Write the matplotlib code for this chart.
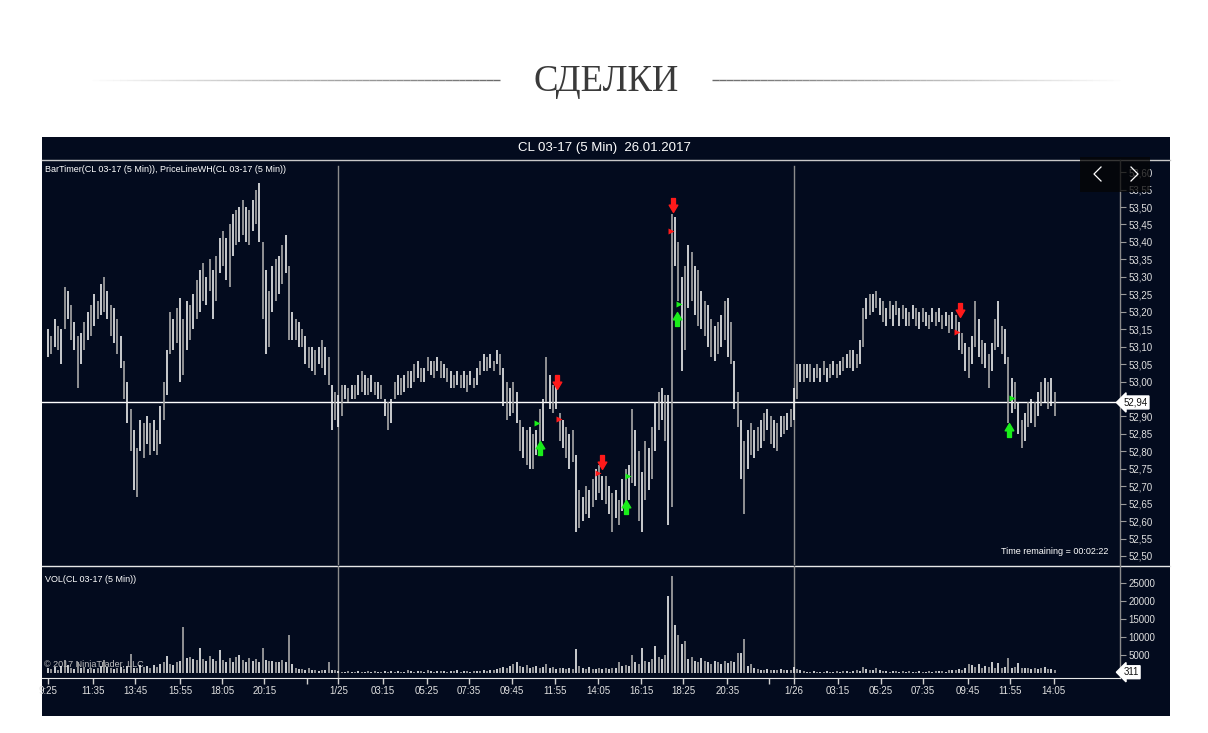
import numpy as np
import matplotlib
matplotlib.use('Agg')
import matplotlib.pyplot as plt
from matplotlib.path import Path
from matplotlib.collections import LineCollection
from matplotlib.patches import Rectangle

plt.rcParams['font.family'] = ['Liberation Sans', 'DejaVu Sans']

# ---------------- data (prices in cents) ----------------
high_c = [
    5315, 5313, 5318, 5316, 5315, 5327, 5326, 5322, 5317, 5313,
    5314, 5317, 5320, 5322, 5325, 5323, 5328, 5330, 5326, 5322,
    5321, 5318, 5313, 5306, 5300, 5292, 5286, 5281, 5289, 5288,
    5290, 5288, 5289, 5286, 5293, 5300, 5309, 5320, 5318, 5321,
    5324, 5318, 5323, 5322, 5325, 5329, 5332, 5334, 5330, 5335,
    5332, 5336, 5341, 5343, 5341, 5345, 5348, 5349, 5350, 5352,
    5350, 5349, 5352, 5355, 5357, 5340, 5332, 5326, 5333, 5335,
    5336, 5339, 5342, 5333, 5320, 5318, 5317, 5315, 5313, 5310,
    5310, 5309, 5310, 5312, 5310, 5307, 5299, 5297, 5296, 5299,
    5299, 5298, 5299, 5299, 5302, 5303, 5302, 5301, 5302, 5300,
    5300, 5299, 5295, 5294, 5295, 5300, 5302, 5301, 5302, 5303,
    5303, 5305, 5306, 5304, 5304, 5307, 5306, 5306, 5307, 5306,
    5305, 5304, 5303, 5302, 5303, 5302, 5303, 5302, 5303, 5301,
    5304, 5306, 5308, 5307, 5308, 5306, 5309, 5308, 5304, 5300,
    5298, 5300, 5297, 5289, 5287, 5286, 5287, 5285, 5286, 5292,
    5295, 5307, 5302, 5299, 5300, 5291, 5289, 5287, 5285, 5286,
    5279, 5269, 5267, 5270, 5269, 5272, 5275, 5276, 5273, 5273,
    5270, 5268, 5269, 5266, 5272, 5275, 5276, 5292, 5286, 5280,
    5274, 5283, 5281, 5287, 5294, 5297, 5298, 5296, 5296, 5348,
    5347, 5340, 5330, 5333, 5339, 5337, 5333, 5332, 5326, 5323,
    5322, 5318, 5316, 5317, 5319, 5323, 5324, 5317, 5306, 5297,
    5289, 5283, 5286, 5288, 5286, 5287, 5289, 5291, 5292, 5290,
    5289, 5288, 5290, 5290, 5291, 5292, 5298, 5305, 5305, 5305,
    5305, 5305, 5304, 5305, 5304, 5306, 5304, 5305, 5306, 5305,
    5306, 5307, 5308, 5309, 5309, 5308, 5312, 5321, 5324, 5325,
    5325, 5326, 5324, 5323, 5321, 5323, 5322, 5323, 5321, 5322,
    5321, 5320, 5322, 5321, 5320, 5321, 5320, 5319, 5321, 5320,
    5321, 5319, 5320, 5319, 5320, 5319, 5317, 5314, 5311, 5310,
    5313, 5323, 5318, 5312, 5311, 5308, 5311, 5318, 5323, 5316,
    5315, 5307, 5301, 5300, 5294, 5289, 5291, 5294, 5295, 5294,
    5297, 5300, 5301, 5300, 5301, 5297,
]
low_c = [
    5307, 5308, 5310, 5309, 5305, 5315, 5318, 5312, 5309, 5298,
    5305, 5309, 5312, 5313, 5316, 5318, 5319, 5320, 5318, 5313,
    5311, 5308, 5304, 5295, 5288, 5280, 5269, 5267, 5280, 5278,
    5282, 5279, 5280, 5279, 5282, 5289, 5296, 5308, 5309, 5311,
    5300, 5302, 5309, 5312, 5315, 5318, 5320, 5323, 5322, 5326,
    5318, 5323, 5331, 5333, 5329, 5327, 5336, 5339, 5340, 5342,
    5340, 5339, 5343, 5345, 5340, 5318, 5308, 5310, 5320, 5323,
    5325, 5328, 5331, 5312, 5312, 5312, 5310, 5310, 5305, 5304,
    5303, 5302, 5305, 5304, 5302, 5299, 5286, 5289, 5287, 5290,
    5295, 5294, 5295, 5295, 5296, 5297, 5296, 5296, 5297, 5296,
    5295, 5295, 5290, 5286, 5288, 5295, 5296, 5296, 5297, 5298,
    5298, 5300, 5301, 5300, 5300, 5303, 5302, 5301, 5303, 5301,
    5301, 5300, 5298, 5298, 5299, 5298, 5298, 5297, 5299, 5298,
    5299, 5302, 5303, 5303, 5304, 5303, 5305, 5302, 5293, 5289,
    5290, 5291, 5288, 5280, 5278, 5276, 5275, 5275, 5279, 5280,
    5283, 5294, 5292, 5291, 5292, 5283, 5281, 5278, 5275, 5277,
    5257, 5258, 5260, 5262, 5261, 5264, 5266, 5268, 5266, 5265,
    5262, 5257, 5261, 5259, 5263, 5265, 5266, 5271, 5270, 5260,
    5257, 5266, 5269, 5272, 5280, 5286, 5289, 5283, 5259, 5264,
    5333, 5323, 5303, 5309, 5321, 5323, 5319, 5316, 5315, 5313,
    5310, 5307, 5306, 5308, 5310, 5312, 5307, 5305, 5292, 5287,
    5272, 5262, 5275, 5279, 5278, 5280, 5281, 5283, 5286, 5282,
    5281, 5280, 5284, 5285, 5286, 5287, 5289, 5295, 5300, 5300,
    5301, 5300, 5300, 5301, 5300, 5302, 5300, 5301, 5302, 5301,
    5302, 5303, 5304, 5304, 5303, 5304, 5305, 5310, 5318, 5319,
    5320, 5321, 5319, 5317, 5316, 5318, 5316, 5319, 5316, 5318,
    5316, 5316, 5318, 5316, 5315, 5317, 5316, 5315, 5317, 5316,
    5317, 5315, 5316, 5314, 5315, 5314, 5309, 5308, 5303, 5301,
    5305, 5310, 5307, 5305, 5304, 5298, 5303, 5309, 5310, 5308,
    5305, 5288, 5291, 5292, 5285, 5281, 5283, 5287, 5288, 5287,
    5290, 5293, 5294, 5292, 5293, 5290,
]
volume = [
    1500, 1200, 1800, 1000, 2000, 3600, 2200, 1500, 1300, 3100,
    1400, 1800, 1200, 1600, 1300, 1500, 2000, 3600, 1700, 1400,
    1200, 1500, 1800, 1300, 2000, 5300, 1600, 1500, 2200, 1800,
    2000, 1600, 2400, 1800, 2500, 3000, 4700, 2600, 2200, 3000,
    3500, 12700, 4200, 4500, 4000, 3800, 6900, 4000, 3500, 4800,
    4000, 3500, 6300, 3800, 3200, 4200, 3000, 4500, 5000, 3600,
    3000, 4200, 3500, 4000, 3200, 7100, 3800, 3300, 3500, 3000,
    3200, 3600, 3000, 10700, 2500, 1500, 1200, 1300, 1000, 1500,
    900, 800, 700, 1000, 800, 3000, 1000, 900, 600, 500,
    500, 600, 400, 500, 600, 500, 400, 600, 500, 700,
    500, 400, 600, 500, 700, 500, 600, 400, 500, 800,
    600, 500, 700, 600, 500, 800, 600, 500, 700, 600,
    600, 500, 700, 600, 800, 500, 600, 700, 500, 600,
    700, 600, 800, 700, 900, 1000, 1200, 1500, 1800, 1500,
    2000, 2500, 3100, 2000, 1800, 2200, 1500, 1800, 2000, 1600,
    1800, 2500, 1500, 1800, 1200, 1600, 1400, 1200, 1500, 1300,
    6600, 2000, 1500, 1200, 1800, 1300, 1100, 1500, 1200, 1400,
    1300, 1600, 1500, 3000, 2000, 2200, 2000, 5000, 3000, 2500,
    7000, 3500, 3000, 4000, 7500, 4500, 4000, 5000, 21300, 26800,
    13200, 10500, 8000, 9000, 4000, 4500, 3500, 3000, 4200, 3500,
    3000, 2500, 3500, 3000, 2500, 3300, 2800, 3500, 3000, 5700,
    5700, 9600, 2000, 2500, 1500, 1200, 1000, 900, 1200, 800,
    1000, 800, 1200, 900, 800, 1000, 1800, 1200, 800, 600,
    500, 400, 600, 500, 400, 500, 600, 400, 500, 600,
    500, 600, 700, 500, 600, 800, 700, 1700, 1200, 900,
    1000, 1600, 800, 700, 600, 500, 700, 600, 500, 600,
    500, 600, 400, 500, 600, 500, 400, 600, 500, 700,
    600, 700, 500, 800, 900, 1000, 1200, 1000, 1500, 2500,
    2200, 1800, 2500, 1500, 2000, 1800, 3000, 1600, 2800, 1500,
    1800, 4200, 1500, 1800, 2900, 1600, 1400, 1500, 1300, 1600,
    1200, 1500, 1800, 1300, 1200, 1000,
]
tick_pos = [0, 13.6, 26.4, 40, 52.7, 65.5, 78.5, 88, 101.5, 114.8, 127.6,
            140.6, 153.6, 166.7, 179.7, 192.4, 205.8, 218.5, 226.1, 239.4,
            252.4, 265.2, 278.8, 291.5, 304.8]
tick_labels = ['9:25', '11:35', '13:45', '15:55', '18:05', '20:15', '', '1/25',
               '03:15', '05:25', '07:35', '09:45', '11:55', '14:05', '16:15',
               '18:25', '20:35', '', '1/26', '03:15', '05:25', '07:35', '09:45',
               '11:55', '14:05']
price_ticks = [52.50, 52.55, 52.60, 52.65, 52.70, 52.75, 52.80, 52.85, 52.90,
               53.00, 53.05, 53.10, 53.15, 53.20, 53.25, 53.30, 53.35, 53.40,
               53.45, 53.50, 53.55, 53.60]
volume_ticks = [5000, 10000, 15000, 20000, 25000]
day_breaks = [88, 226.1]
last_price = 52.94
last_volume = 311

sell_x = [154.2, 167.9, 189.4, 276.4]
sell_p = [53.00, 52.77, 53.505, 53.205]
buy_x = [149.0, 175.2, 190.6, 291.2]
buy_p = [52.81, 52.64, 53.18, 52.86]
red_mark_x = [154.8, 166.7, 188.8, 275.5]
red_mark_p = [52.893, 52.738, 53.431, 53.142]
green_mark_x = [148.2, 175.8, 191.2, 292.1]
green_mark_p = [52.881, 52.729, 53.222, 52.953]

# ---------------- figure ----------------
W, H = 1208, 733
BG = '#030b1e'
fig = plt.figure(figsize=(W / 100, H / 100), dpi=100)
fig.patch.set_facecolor('white')


def rect(x0, y0, x1, y1):
    return [x0 / W, 1 - y1 / H, (x1 - x0) / W, (y1 - y0) / H]


bg = fig.add_axes([0, 0, 1, 1])
bg.set_xlim(0, W)
bg.set_ylim(H, 0)
bg.axis('off')

# title with decorative fading lines
bg.text(606, 82, 'СДЕЛКИ', fontsize=26.5, color='#3a3a3a', ha='center', va='center',
        family=['Liberation Serif', 'DejaVu Serif'])
n = 60
for (xa, xb, rev) in [(85, 500, False), (712, 1127, True)]:
    xs = np.linspace(xa, xb, n + 1)
    segs = [[(xs[k], 80), (xs[k + 1], 80)] for k in range(n)]
    a = np.linspace(0.0, 1.0, n)
    if rev:
        a = a[::-1]
    cols = [(0.42, 0.42, 0.42, v) for v in a]
    bg.add_collection(LineCollection(segs, colors=cols, linewidths=1.0))

# panel
bg.add_patch(Rectangle((42, 137), 1128, 579, facecolor=BG, edgecolor='none'))
bg.text(604, 148, 'CL 03-17 (5 Min)  26.01.2017', color='white', fontsize=9.5,
        ha='center', va='center')
bg.plot([42, 1170], [159.5, 159.5], color='#c8c8c8', lw=1)
bg.plot([42, 1170], [565.5, 565.5], color='#e8e8e8', lw=1)
bg.plot([1120, 1120], [160, 678], color='#8a8a8a', lw=1)
bg.text(45, 170, 'BarTimer(CL 03-17 (5 Min)), PriceLineWH(CL 03-17 (5 Min))',
        color='white', fontsize=6.5, ha='left', va='center')
bg.text(1108, 552, 'Time remaining = 00:02:22', color='white', fontsize=6.5,
        ha='right', va='center')
bg.text(45, 579, 'VOL(CL 03-17 (5 Min))', color='white', fontsize=6.5,
        ha='left', va='center')

step_px = 3.3
x_first = 48
xlim = ((42 - x_first) / step_px, (1120 - x_first) / step_px)

highs = np.array(high_c) / 100.0
lows = np.array(low_c) / 100.0
idx = np.arange(len(highs))
bar_cols = ['#ececec' if i % 2 == 0 else '#a9a9a9' for i in idx]

# price panel
ax = fig.add_axes(rect(42, 160, 1120, 565))
ax.set_facecolor('none')
for s in ax.spines.values():
    s.set_visible(False)
ax.set_xlim(*xlim)
ax.set_ylim(52.4742, 53.6347)
ax.vlines(idx, lows, highs, colors=bar_cols, linewidth=1.2, zorder=3)
for d in day_breaks:
    ax.axvline(d, color='#8c8c8c', lw=1, ymax=0.985, zorder=1)
ax.axhline(last_price, color='white', lw=1, zorder=2)
ax.yaxis.tick_right()
ax.set_yticks(price_ticks)
ax.set_yticklabels([f'{v:.2f}'.replace('.', ',') for v in price_ticks])
ax.tick_params(axis='y', colors='#9a9a9a', labelcolor='#e0e0e0', labelsize=7,
               length=4, width=0.8, pad=2)
ax.set_xticks([])
ax.text(1.003, (last_price - 52.4742) / (53.6347 - 52.4742), f'{last_price:.2f}'.replace('.', ','),
        transform=ax.transAxes, fontsize=7, color='#111111', ha='left', va='center',
        bbox=dict(boxstyle='larrow,pad=0.15', fc='white', ec='white'), zorder=6)

down_arrow = Path([(-0.28, 1), (0.28, 1), (0.28, 0.05), (0.62, 0.05), (0, -1),
                   (-0.62, 0.05), (-0.28, 0.05), (-0.28, 1)], closed=True)
up_arrow = Path([(-0.28, -1), (0.28, -1), (0.28, -0.05), (0.62, -0.05), (0, 1),
                 (-0.62, -0.05), (-0.28, -0.05), (-0.28, -1)], closed=True)
ax.plot(sell_x, sell_p, ls='none', marker=down_arrow, markersize=10,
        color='#ff1a1a', mec='#ff1a1a', zorder=5)
ax.plot(buy_x, buy_p, ls='none', marker=up_arrow, markersize=10,
        color='#1aee1a', mec='#1aee1a', zorder=5)
ax.plot(red_mark_x, red_mark_p, ls='none', marker='>', markersize=4.5,
        color='#ff1a1a', mec='none', zorder=5)
ax.plot(green_mark_x, green_mark_p, ls='none', marker='>', markersize=4.5,
        color='#1aee1a', mec='none', zorder=5)

# volume panel
vmin, vmax = -1284, 29590
axv = fig.add_axes(rect(42, 566, 1120, 678))
axv.set_facecolor('none')
for s in axv.spines.values():
    s.set_visible(False)
axv.spines['bottom'].set_visible(True)
axv.spines['bottom'].set_color('#e8e8e8')
axv.set_xlim(*xlim)
axv.set_ylim(vmin, vmax)
axv.vlines(idx, 0, volume, colors=bar_cols, linewidth=1.2, zorder=3)
for d in day_breaks:
    axv.axvline(d, color='#8c8c8c', lw=1, zorder=1)
axv.yaxis.tick_right()
axv.set_yticks(volume_ticks)
axv.tick_params(axis='y', colors='#9a9a9a', labelcolor='#e0e0e0', labelsize=7,
                length=4, width=0.8, pad=2)
axv.set_xticks(tick_pos)
axv.set_xticklabels(tick_labels)
axv.tick_params(axis='x', colors='#d0d0d0', labelcolor='#e0e0e0', labelsize=7,
                length=4, width=1, pad=2)
axv.text(1.003, (last_volume - vmin) / (vmax - vmin), str(last_volume),
         transform=axv.transAxes, fontsize=7, color='#111111', ha='left', va='center',
         bbox=dict(boxstyle='larrow,pad=0.15', fc='white', ec='white'), zorder=6)
axv.text(0.002, 0.12, '© 2017 NinjaTrader, LLC', transform=axv.transAxes,
         fontsize=6.5, color='#c0c0c0', ha='left', va='center', zorder=2)

# navigation buttons overlay
ov = fig.add_axes([0, 0, 1, 1])
ov.set_xlim(0, W)
ov.set_ylim(H, 0)
ov.axis('off')
ov.patch.set_alpha(0)
ov.add_patch(Rectangle((1080, 157), 35, 35, facecolor='#050505', alpha=0.75, edgecolor='none'))
ov.add_patch(Rectangle((1115, 157), 35, 35, facecolor='#050505', alpha=0.75, edgecolor='none'))
ov.plot([1101, 1094, 1101], [167, 174, 181], color='white', lw=0.9)
ov.plot([1131, 1138, 1131], [167, 174, 181], color='white', lw=0.9)

fig.savefig('out.png', dpi=100, facecolor='white')
